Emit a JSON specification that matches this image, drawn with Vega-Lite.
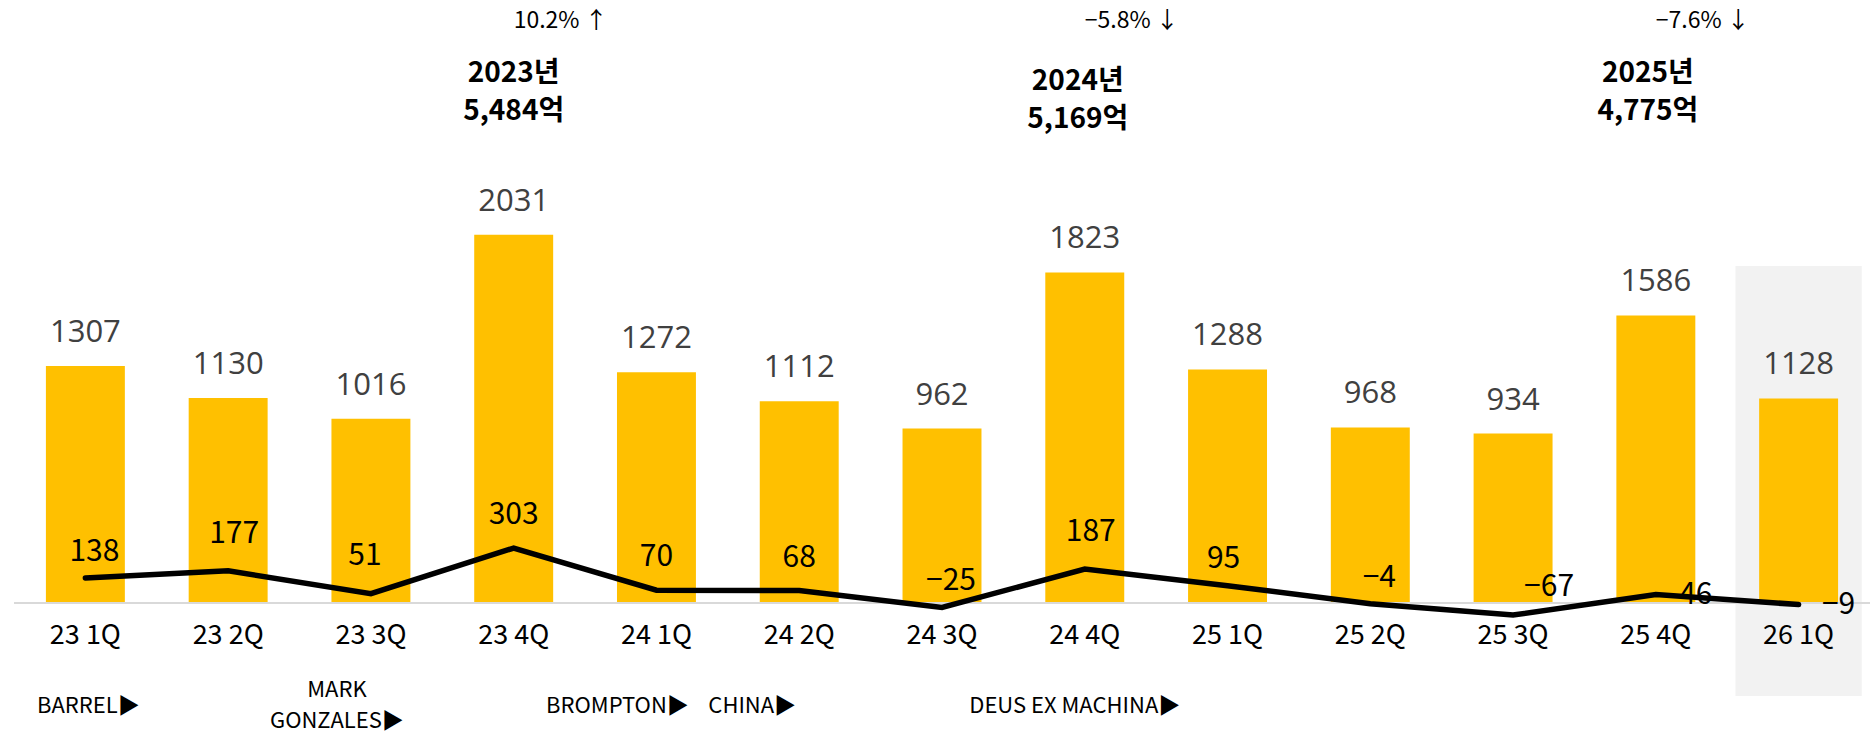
{
  "$schema": "https://vega.github.io/schema/vega-lite/v6.json",
  "autosize": {"type": "none"},
  "padding": {"left": 14, "top": 0, "right": 0, "bottom": 0},
  "width": 1856,
  "height": 734,
  "background": "white",
  "config": {"view": {"stroke": null}, "text": {"font": "Noto Sans CJK KR", "color": "black"}},
  "datasets": {
    "main": [
      {"q": "23 1Q", "sales": 1307, "op": 138},
      {"q": "23 2Q", "sales": 1130, "op": 177},
      {"q": "23 3Q", "sales": 1016, "op": 51},
      {"q": "23 4Q", "sales": 2031, "op": 303},
      {"q": "24 1Q", "sales": 1272, "op": 70},
      {"q": "24 2Q", "sales": 1112, "op": 68},
      {"q": "24 3Q", "sales": 962, "op": -25},
      {"q": "24 4Q", "sales": 1823, "op": 187},
      {"q": "25 1Q", "sales": 1288, "op": 95},
      {"q": "25 2Q", "sales": 968, "op": -4},
      {"q": "25 3Q", "sales": 934, "op": -67},
      {"q": "25 4Q", "sales": 1586, "op": 46},
      {"q": "26 1Q", "sales": 1128, "op": -9}
    ],
    "years": [
      {"q": "23 4Q", "label": "2023년\n5,484억", "chg": "10.2% ↑"},
      {"q": "24 4Q", "label": "2024년\n5,169억", "chg": "−5.8% ↓"},
      {"q": "25 4Q", "label": "2025년\n4,775억", "chg": "−7.6% ↓"}
    ],
    "brands": [
      {"q": "23 1Q", "label": "BARREL▶"},
      {"q": "23 3Q", "label": "MARK\nGONZALES▶"},
      {"q": "24 1Q", "label": "BROMPTON▶"},
      {"q": "24 2Q", "label": "CHINA▶"},
      {"q": "24 4Q", "label": "DEUS EX MACHINA▶"}
    ]
  },
  "data": {"name": "main"},
  "layer": [
    {
      "transform": [{"filter": {"field": "q", "equal": "26 1Q"}}],
      "mark": {"type": "bar", "color": "#F2F2F2", "width": {"band": 1.6}},
      "encoding": {
        "x": {"field": "q", "type": "nominal", "axis": null, "scale": {"domain": ["23 1Q","23 2Q","23 3Q","23 4Q","24 1Q","24 2Q","24 3Q","24 4Q","25 1Q","25 2Q","25 3Q","25 4Q","26 1Q"], "paddingInner": 0.447, "paddingOuter": 0.2235}},
        "y": {"datum": 1859, "type": "quantitative", "axis": null, "scale": {"domain": [-723, 3326], "nice": false, "zero": false}},
        "y2": {"datum": -513}
      }
    },
    {
      "mark": {"type": "bar", "color": "#FFC000"},
      "encoding": {
        "x": {"field": "q", "type": "nominal", "axis": null, "scale": {"domain": ["23 1Q","23 2Q","23 3Q","23 4Q","24 1Q","24 2Q","24 3Q","24 4Q","25 1Q","25 2Q","25 3Q","25 4Q","26 1Q"], "paddingInner": 0.447, "paddingOuter": 0.2235}},
        "y": {"field": "sales", "type": "quantitative", "axis": null}
      }
    },
    {
      "mark": {"type": "rule", "color": "#D9D9D9", "strokeWidth": 2},
      "encoding": {"y": {"datum": 0, "type": "quantitative"}}
    },
    {
      "mark": {"type": "line", "color": "black", "strokeWidth": 5.5, "strokeCap": "round"},
      "encoding": {
        "x": {"field": "q", "type": "nominal", "axis": null, "scale": {"domain": ["23 1Q","23 2Q","23 3Q","23 4Q","24 1Q","24 2Q","24 3Q","24 4Q","25 1Q","25 2Q","25 3Q","25 4Q","26 1Q"], "paddingInner": 0.447, "paddingOuter": 0.2235}},
        "y": {"field": "op", "type": "quantitative"}
      }
    },
    {
      "mark": {"type": "text", "font": "Open Sans", "fontSize": 31, "color": "#404040", "baseline": "alphabetic", "dy": -24},
      "encoding": {
        "x": {"field": "q", "type": "nominal", "axis": null, "scale": {"domain": ["23 1Q","23 2Q","23 3Q","23 4Q","24 1Q","24 2Q","24 3Q","24 4Q","25 1Q","25 2Q","25 3Q","25 4Q","26 1Q"], "paddingInner": 0.447, "paddingOuter": 0.2235}},
        "y": {"field": "sales", "type": "quantitative"},
        "text": {"field": "sales", "type": "quantitative", "format": "d"}
      }
    },
    {
      "mark": {"type": "text", "fontSize": 27, "baseline": "alphabetic", "dy": 41},
      "encoding": {
        "x": {"field": "q", "type": "nominal", "axis": null, "scale": {"domain": ["23 1Q","23 2Q","23 3Q","23 4Q","24 1Q","24 2Q","24 3Q","24 4Q","25 1Q","25 2Q","25 3Q","25 4Q","26 1Q"], "paddingInner": 0.447, "paddingOuter": 0.2235}},
        "y": {"datum": 0, "type": "quantitative"},
        "text": {"field": "q", "type": "nominal"}
      }
    },
    {
      "transform": [{"filter": {"field": "op", "oneOf": [303, 70, 68]}}],
      "mark": {"type": "text", "fontSize": 30, "baseline": "middle", "dx": 0, "dy": -33},
      "encoding": {
        "x": {"field": "q", "type": "nominal", "axis": null, "scale": {"domain": ["23 1Q","23 2Q","23 3Q","23 4Q","24 1Q","24 2Q","24 3Q","24 4Q","25 1Q","25 2Q","25 3Q","25 4Q","26 1Q"], "paddingInner": 0.447, "paddingOuter": 0.2235}},
        "y": {"field": "op", "type": "quantitative"},
        "text": {"field": "op", "type": "quantitative", "format": "d"}
      }
    },
    {
      "transform": [{"filter": {"field": "op", "oneOf": [177, 187]}}],
      "mark": {"type": "text", "fontSize": 30, "baseline": "middle", "dx": 6, "dy": -37},
      "encoding": {
        "x": {"field": "q", "type": "nominal", "axis": null, "scale": {"domain": ["23 1Q","23 2Q","23 3Q","23 4Q","24 1Q","24 2Q","24 3Q","24 4Q","25 1Q","25 2Q","25 3Q","25 4Q","26 1Q"], "paddingInner": 0.447, "paddingOuter": 0.2235}},
        "y": {"field": "op", "type": "quantitative"},
        "text": {"field": "op", "type": "quantitative", "format": "d"}
      }
    },
    {
      "transform": [{"filter": {"field": "op", "oneOf": [51]}}],
      "mark": {"type": "text", "fontSize": 30, "baseline": "middle", "dx": -6, "dy": -38},
      "encoding": {
        "x": {"field": "q", "type": "nominal", "axis": null, "scale": {"domain": ["23 1Q","23 2Q","23 3Q","23 4Q","24 1Q","24 2Q","24 3Q","24 4Q","25 1Q","25 2Q","25 3Q","25 4Q","26 1Q"], "paddingInner": 0.447, "paddingOuter": 0.2235}},
        "y": {"field": "op", "type": "quantitative"},
        "text": {"field": "op", "type": "quantitative", "format": "d"}
      }
    },
    {
      "transform": [{"filter": {"field": "op", "oneOf": [138, -25, -4]}}],
      "mark": {"type": "text", "fontSize": 30, "baseline": "middle", "dx": 9, "dy": -26},
      "encoding": {
        "x": {"field": "q", "type": "nominal", "axis": null, "scale": {"domain": ["23 1Q","23 2Q","23 3Q","23 4Q","24 1Q","24 2Q","24 3Q","24 4Q","25 1Q","25 2Q","25 3Q","25 4Q","26 1Q"], "paddingInner": 0.447, "paddingOuter": 0.2235}},
        "y": {"field": "op", "type": "quantitative"},
        "text": {"field": "op", "type": "quantitative", "format": "d"}
      }
    },
    {
      "transform": [{"filter": {"field": "op", "oneOf": [95]}}],
      "mark": {"type": "text", "fontSize": 30, "baseline": "middle", "dx": -4, "dy": -27},
      "encoding": {
        "x": {"field": "q", "type": "nominal", "axis": null, "scale": {"domain": ["23 1Q","23 2Q","23 3Q","23 4Q","24 1Q","24 2Q","24 3Q","24 4Q","25 1Q","25 2Q","25 3Q","25 4Q","26 1Q"], "paddingInner": 0.447, "paddingOuter": 0.2235}},
        "y": {"field": "op", "type": "quantitative"},
        "text": {"field": "op", "type": "quantitative", "format": "d"}
      }
    },
    {
      "transform": [{"filter": {"field": "op", "oneOf": [-67]}}],
      "mark": {"type": "text", "fontSize": 30, "baseline": "middle", "dx": 36, "dy": -28},
      "encoding": {
        "x": {"field": "q", "type": "nominal", "axis": null, "scale": {"domain": ["23 1Q","23 2Q","23 3Q","23 4Q","24 1Q","24 2Q","24 3Q","24 4Q","25 1Q","25 2Q","25 3Q","25 4Q","26 1Q"], "paddingInner": 0.447, "paddingOuter": 0.2235}},
        "y": {"field": "op", "type": "quantitative"},
        "text": {"field": "op", "type": "quantitative", "format": "d"}
      }
    },
    {
      "transform": [{"filter": {"field": "op", "oneOf": [46, -9]}}],
      "mark": {"type": "text", "fontSize": 30, "baseline": "middle", "dx": 40, "dy": 0},
      "encoding": {
        "x": {"field": "q", "type": "nominal", "axis": null, "scale": {"domain": ["23 1Q","23 2Q","23 3Q","23 4Q","24 1Q","24 2Q","24 3Q","24 4Q","25 1Q","25 2Q","25 3Q","25 4Q","26 1Q"], "paddingInner": 0.447, "paddingOuter": 0.2235}},
        "y": {"field": "op", "type": "quantitative"},
        "text": {"field": "op", "type": "quantitative", "format": "d"}
      }
    },
    {
      "data": {"name": "years"},
      "transform": [{"filter": {"field": "q", "equal": "23 4Q"}}],
      "mark": {"type": "text", "fontSize": 28, "fontWeight": "bold", "baseline": "middle", "lineBreak": "\n", "lineHeight": 38, "dx": 0, "dy": -16},
      "encoding": {
        "x": {"field": "q", "type": "nominal", "axis": null, "scale": {"domain": ["23 1Q","23 2Q","23 3Q","23 4Q","24 1Q","24 2Q","24 3Q","24 4Q","25 1Q","25 2Q","25 3Q","25 4Q","26 1Q"], "paddingInner": 0.447, "paddingOuter": 0.2235}},
        "y": {"datum": 2832, "type": "quantitative"},
        "text": {"field": "label", "type": "nominal"}
      }
    },
    {
      "data": {"name": "years"},
      "transform": [{"filter": {"field": "q", "equal": "24 4Q"}}],
      "mark": {"type": "text", "fontSize": 28, "fontWeight": "bold", "baseline": "middle", "lineBreak": "\n", "lineHeight": 38, "dx": -7, "dy": -8},
      "encoding": {
        "x": {"field": "q", "type": "nominal", "axis": null, "scale": {"domain": ["23 1Q","23 2Q","23 3Q","23 4Q","24 1Q","24 2Q","24 3Q","24 4Q","25 1Q","25 2Q","25 3Q","25 4Q","26 1Q"], "paddingInner": 0.447, "paddingOuter": 0.2235}},
        "y": {"datum": 2832, "type": "quantitative"},
        "text": {"field": "label", "type": "nominal"}
      }
    },
    {
      "data": {"name": "years"},
      "transform": [{"filter": {"field": "q", "equal": "25 4Q"}}],
      "mark": {"type": "text", "fontSize": 28, "fontWeight": "bold", "baseline": "middle", "lineBreak": "\n", "lineHeight": 38, "dx": -8, "dy": -16},
      "encoding": {
        "x": {"field": "q", "type": "nominal", "axis": null, "scale": {"domain": ["23 1Q","23 2Q","23 3Q","23 4Q","24 1Q","24 2Q","24 3Q","24 4Q","25 1Q","25 2Q","25 3Q","25 4Q","26 1Q"], "paddingInner": 0.447, "paddingOuter": 0.2235}},
        "y": {"datum": 2832, "type": "quantitative"},
        "text": {"field": "label", "type": "nominal"}
      }
    },
    {
      "data": {"name": "years"},
      "mark": {"type": "text", "fontSize": 23, "baseline": "middle", "dx": 47},
      "encoding": {
        "x": {"field": "q", "type": "nominal", "axis": null, "scale": {"domain": ["23 1Q","23 2Q","23 3Q","23 4Q","24 1Q","24 2Q","24 3Q","24 4Q","25 1Q","25 2Q","25 3Q","25 4Q","26 1Q"], "paddingInner": 0.447, "paddingOuter": 0.2235}},
        "y": {"datum": 3210, "type": "quantitative"},
        "text": {"field": "chg", "type": "nominal"}
      }
    },
    {
      "data": {"name": "brands"},
      "transform": [{"filter": {"field": "q", "equal": "23 1Q"}}],
      "mark": {"type": "text", "fontSize": 22, "baseline": "middle", "dx": 3},
      "encoding": {
        "x": {"field": "q", "type": "nominal", "axis": null, "scale": {"domain": ["23 1Q","23 2Q","23 3Q","23 4Q","24 1Q","24 2Q","24 3Q","24 4Q","25 1Q","25 2Q","25 3Q","25 4Q","26 1Q"], "paddingInner": 0.447, "paddingOuter": 0.2235}},
        "y": {"datum": -568, "type": "quantitative"},
        "text": {"field": "label", "type": "nominal"}
      }
    },
    {
      "data": {"name": "brands"},
      "transform": [{"filter": {"field": "q", "equal": "23 3Q"}}],
      "mark": {"type": "text", "fontSize": 22, "baseline": "middle", "lineBreak": "\n", "lineHeight": 31, "dx": -34, "dy": -16},
      "encoding": {
        "x": {"field": "q", "type": "nominal", "axis": null, "scale": {"domain": ["23 1Q","23 2Q","23 3Q","23 4Q","24 1Q","24 2Q","24 3Q","24 4Q","25 1Q","25 2Q","25 3Q","25 4Q","26 1Q"], "paddingInner": 0.447, "paddingOuter": 0.2235}},
        "y": {"datum": -568, "type": "quantitative"},
        "text": {"field": "label", "type": "nominal"}
      }
    },
    {
      "data": {"name": "brands"},
      "transform": [{"filter": {"field": "q", "equal": "24 1Q"}}],
      "mark": {"type": "text", "fontSize": 22, "baseline": "middle", "dx": -39},
      "encoding": {
        "x": {"field": "q", "type": "nominal", "axis": null, "scale": {"domain": ["23 1Q","23 2Q","23 3Q","23 4Q","24 1Q","24 2Q","24 3Q","24 4Q","25 1Q","25 2Q","25 3Q","25 4Q","26 1Q"], "paddingInner": 0.447, "paddingOuter": 0.2235}},
        "y": {"datum": -568, "type": "quantitative"},
        "text": {"field": "label", "type": "nominal"}
      }
    },
    {
      "data": {"name": "brands"},
      "transform": [{"filter": {"field": "q", "equal": "24 2Q"}}],
      "mark": {"type": "text", "fontSize": 22, "baseline": "middle", "dx": -47},
      "encoding": {
        "x": {"field": "q", "type": "nominal", "axis": null, "scale": {"domain": ["23 1Q","23 2Q","23 3Q","23 4Q","24 1Q","24 2Q","24 3Q","24 4Q","25 1Q","25 2Q","25 3Q","25 4Q","26 1Q"], "paddingInner": 0.447, "paddingOuter": 0.2235}},
        "y": {"datum": -568, "type": "quantitative"},
        "text": {"field": "label", "type": "nominal"}
      }
    },
    {
      "data": {"name": "brands"},
      "transform": [{"filter": {"field": "q", "equal": "24 4Q"}}],
      "mark": {"type": "text", "fontSize": 22, "baseline": "middle", "dx": -10},
      "encoding": {
        "x": {"field": "q", "type": "nominal", "axis": null, "scale": {"domain": ["23 1Q","23 2Q","23 3Q","23 4Q","24 1Q","24 2Q","24 3Q","24 4Q","25 1Q","25 2Q","25 3Q","25 4Q","26 1Q"], "paddingInner": 0.447, "paddingOuter": 0.2235}},
        "y": {"datum": -568, "type": "quantitative"},
        "text": {"field": "label", "type": "nominal"}
      }
    }
  ]
}
